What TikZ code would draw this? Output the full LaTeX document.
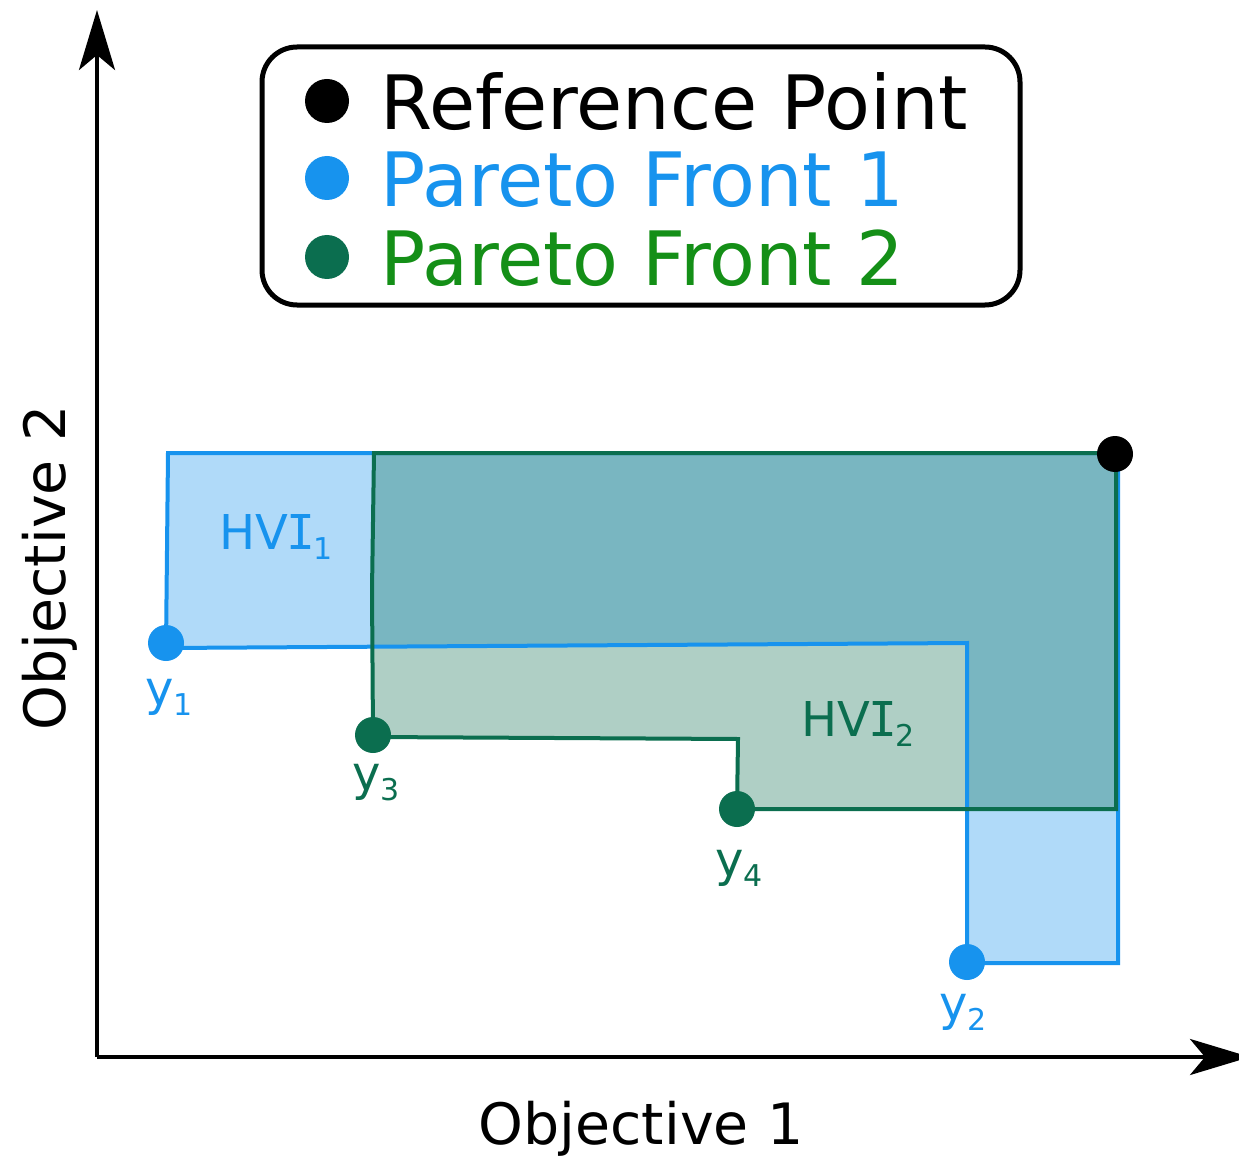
\documentclass[tikz,border=0pt]{standalone}
\usepackage{fontspec}
\setmainfont{DejaVu Sans}
\newfontfamily\serifI{DejaVu Sans Mono}
\usetikzlibrary{arrows.meta}
\definecolor{pfblue}{HTML}{1793EE}
\definecolor{pfgreen}{HTML}{0B6E4F}
\definecolor{legendgreen}{HTML}{148F17}
\newcommand{\sublab}[2]{#1\raisebox{-10pt}{\fontsize{30}{30}\selectfont #2}}
\newcommand{\hvi}{HV\kern-2pt{\serifI I}\kern-2pt}
\begin{document}
\begin{tikzpicture}[x=1pt, y=-1pt,
  axis/.style={line width=4pt, -{Stealth[length=60pt, width=36pt, inset=15pt]}},
  front/.style={line width=4pt, line join=miter},
  lab/.style={font=\fontsize{48}{48}\selectfont, inner sep=0pt},
  legtext/.style={font=\fontsize{75}{90}\selectfont, anchor=base west, inner sep=0pt}]
\useasboundingbox (0,0) rectangle (1239,1158);
% axes (1 unit = 1 px of the reference)
\coordinate (O) at (97,1057);
\draw[axis] (O) -- (97,10);
\draw[axis] (O) -- (1250,1057);
\node[font=\fontsize{57}{60}\selectfont, anchor=base, inner sep=0pt] (xlab) at (641,1144) {Objective 1};
\node[font=\fontsize{57}{60}\selectfont, anchor=base, rotate=90, inner sep=0pt] (ylab) at (65,568) {Objective 2};
% dominated regions
\fill[pfblue!34] (166,648) -- (168,453) -- (1118,453) -- (1118,963) -- (967,963) -- (967,643) -- cycle;
\fill[pfgreen, opacity=0.33] (373,737) -- (372,590) -- (374,453) -- (1116,453) -- (1116,809) -- (737,809) -- (738,739) -- cycle;
\draw[front, pfblue] (166,648) -- (168,453) -- (1118,453) -- (1118,963) -- (967,963) -- (967,643) -- cycle;
\draw[front, pfgreen] (373,737) -- (372,590) -- (374,453) -- (1116,453) -- (1116,809) -- (737,809) -- (738,739) -- cycle;
\node[lab, text=pfblue] (hvi1) at (276,537) {\sublab{\hvi}{1}};
\node[lab, text=pfgreen] (hvi2) at (858,724) {\sublab{\hvi}{2}};
% points
\foreach \name/\pos/\col in {y1/{166,643}/pfblue, y2/{967,962}/pfblue, y3/{373,735}/pfgreen, y4/{737,809}/pfgreen, ref/{1115,454}/black}
  \fill[\col] (\pos) circle (18pt) coordinate (\name);
\node[lab, text=pfblue] (y1lab) at (169,697) {\sublab{y}{1}};
\node[lab, text=pfblue] (y2lab) at (963,1012) {\sublab{y}{2}};
\node[lab, text=pfgreen] (y3lab) at (376,783) {\sublab{y}{3}};
\node[lab, text=pfgreen] (y4lab) at (739,868) {\sublab{y}{4}};
% legend
\draw[line width=5pt, rounded corners=35pt] (262,47) rectangle (1020,305);
\fill[black] (327,101) circle (22pt);
\fill[pfblue] (327,178) circle (22pt);
\fill[pfgreen] (327,257) circle (22pt);
\node[legtext] (leg1) at (380,130) {Reference Point};
\node[legtext, text=pfblue] (leg2) at (380,207) {Pareto Front 1};
\node[legtext, text=legendgreen] (leg3) at (380,285) {Pareto Front 2};
\end{tikzpicture}
\end{document}
